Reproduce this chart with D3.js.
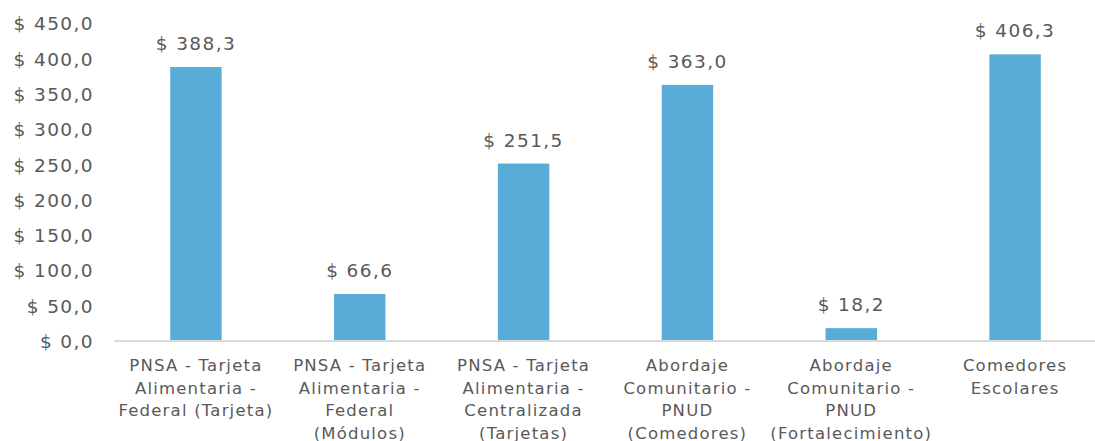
<!DOCTYPE html>
<html>
  <head>
    <meta charset="utf-8">
    <style>
      body { margin: 0; background: #fff; }
      text { font-family: "DejaVu Sans", sans-serif; fill: #595959; }
    </style>
  </head>
  <body>
    <script src="https://d3js.org/d3.v7.min.js"></script>
    <script>
      // data
      var categories = [
        ["PNSA - Tarjeta", "Alimentaria -", "Federal (Tarjeta)"],
        ["PNSA - Tarjeta", "Alimentaria -", "Federal", "(Módulos)"],
        ["PNSA - Tarjeta", "Alimentaria -", "Centralizada", "(Tarjetas)"],
        ["Abordaje", "Comunitario -", "PNUD", "(Comedores)"],
        ["Abordaje", "Comunitario -", "PNUD", "(Fortalecimiento)"],
        ["Comedores", "Escolares"]
      ];
      var values = [388.3, 66.6, 251.5, 363.0, 18.2, 406.3];
      var yTicks = [0, 50, 100, 150, 200, 250, 300, 350, 400, 450];

      var W = 1095, H = 441;
      var mLeft = 114, mRight = 1097, mTop = 23.5, mBottom = 341;

      var fmt = function(v){ return "$ " + v.toFixed(1).replace(".", ","); };

      var svg = d3.select("body").append("svg")
        .attr("width", W).attr("height", H);

      var x = d3.scaleBand()
        .domain(d3.range(categories.length))
        .range([mLeft, mRight])
        .paddingInner(0.686).paddingOuter(0.343);

      var y = d3.scaleLinear().domain([0, 450]).range([mBottom, mTop]);

      // y axis labels
      var yAxis = svg.append("g")
        .attr("transform", "translate(" + 102 + ",0)")
        .call(d3.axisLeft(y).tickValues(yTicks).tickFormat(fmt).tickSize(0).tickPadding(8));
      yAxis.select(".domain").remove();
      yAxis.selectAll("text")
        .style("font-family", "DejaVu Sans")
        .style("font-size", "18.5px")
        .style("letter-spacing", "1.4px")
        .attr("fill", "#595959")
        .attr("dy", "0.35em");

      // bars
      svg.selectAll("rect.bar")
        .data(values)
        .enter().append("rect")
        .attr("class", "bar")
        .attr("x", function(d, i){ return x(i); })
        .attr("y", function(d){ return y(d); })
        .attr("width", x.bandwidth())
        .attr("height", function(d){ return y(0) - y(d); })
        .attr("fill", "#59acd8");

      // baseline
      svg.append("line")
        .attr("x1", mLeft).attr("x2", mRight)
        .attr("y1", y(0)).attr("y2", y(0))
        .attr("stroke", "#d9d9d9").attr("stroke-width", 2);

      // value labels
      svg.selectAll("text.val")
        .data(values)
        .enter().append("text")
        .attr("class", "val")
        .attr("x", function(d, i){ return x(i) + x.bandwidth() / 2; })
        .attr("y", function(d){ return y(d) - 17; })
        .attr("text-anchor", "middle")
        .style("font-size", "18.5px")
        .style("letter-spacing", "1.4px")
        .text(fmt);

      // category labels
      var cat = svg.selectAll("text.cat")
        .data(categories)
        .enter().append("text")
        .attr("class", "cat")
        .attr("x", function(d, i){ return x(i) + x.bandwidth() / 2; })
        .attr("y", bottomLine())
        .attr("text-anchor", "middle")
        .style("font-size", "16.5px")
        .style("letter-spacing", "1.2px");
      cat.selectAll("tspan")
        .data(function(d, i){ return d.map(function(s){ return {s: s, i: i}; }); })
        .enter().append("tspan")
        .attr("x", function(d){ return x(d.i) + x.bandwidth() / 2; })
        .attr("dy", function(d, j){ return j === 0 ? 0 : 22.5; })
        .text(function(d){ return d.s; });

      function bottomLine(){ return mBottom + 30; }
    </script>
  </body>
</html>
